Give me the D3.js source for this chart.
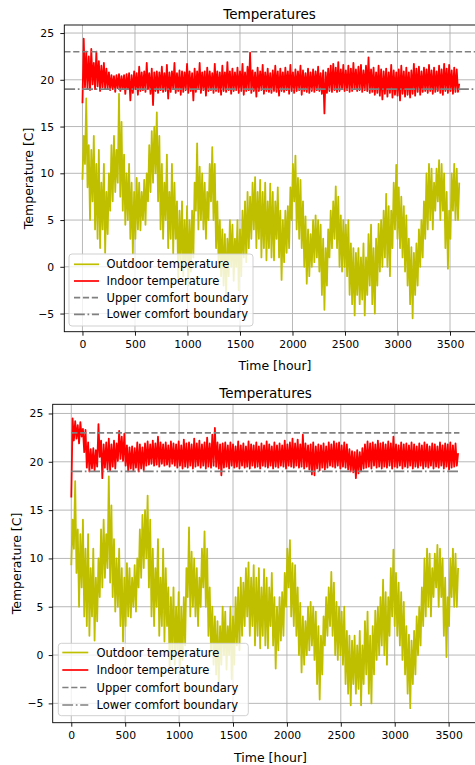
<!DOCTYPE html>
<html>
<head>
<meta charset="utf-8">
<script src="https://cdn.jsdelivr.net/npm/d3@7"></script>
<style>
  html, body { margin: 0; padding: 0; background: #fff; }
  svg { display: block; font-family: "DejaVu Sans", sans-serif; }
</style>
</head>
<body>
<svg id="chart" width="475" height="765"></svg>
<script>
// ---------------- DATA ----------------
const stepHours = 12; // sampling of the values
const xTicks = [0, 500, 1000, 1500, 2000, 2500, 3000, 3500];
const yTicks = [-5, 0, 5, 10, 15, 20, 25];
const upperComfort = 23;
const lowerComfort = 19;
const seriesNames = ["Outdoor temperature", "Indoor temperature", "Upper comfort boundary", "Lower comfort boundary"];
const chartTitle = "Temperatures";
const xLabel = "Time [hour]";
const yLabel = "Temperature [C]";

const outdoorTemp = [
9.3,14, 11,18, 8.5,13, 5,12.5, 7,14, 4,11, 3,12.5, 2,9, 4,11, 1.5,8,
3.5,10, 6,13, 7,14, 8,12.5, 9,18.5, 7.5,15.5, 6,12, 4.5,10, 5,11, 3,9,
1.4,8, 3,9.5, 4,9, 3.9,8, 5,9.3, 4.5,10, 7,13, 8,14.5, 9,15, 10,16.5,
7,14, 4,11, 3,9, 5,12, 2,8, 3,11, 1.4,9, 3,7, -1.4,6, 0.5,7,
-1,5, 0,6.5, -2,5, -0.5,6, 1,9, 6,13.2, 4,10.7, 5,10, 4,9, 3,8,
5,11, 7,12.8, 5,11, 2,7, 0.5,5, -1,4, -2,3.5, -3,3, -1,5, 0,4.5,
-1.5,3, 0,5, -2.5,4, -1,6, 1,7, 0.5,8, 2,7.5, 3,9, 4,9.6, 2,8,
3,9.3, 1,8, 2,9, 0.7,7, 2,8.9, 1,8, 0.7,7, 3,8.5, 1,6, -1.4,5,
0.5,6, 1.5,6.5, 2,8.5, 5,11, 7,11.9, 4,9.5, 3,9.3, 2,7, 0,5.4, -1.8,4,
-1,3.5, 0,5, 0.5,5.5, 1,5, -0.5,4.5, -3,3, -4.6,2, -2,4, 1,6, 2,7,
3,8.6, 2,7.5, 0,5.5, -0.5,5, 0,4.5, -1,5, -3,2.5, -4,2, -5.2,1.5, -3,2,
-4,1, -3.5,2.5, -5.2,1, -3,3.5, -2,4.5, -4,2, -5,3, -2,4.6, -0.5,5, 0,6,
1,7.8, 0,6.5, -1,6, 2,9, 4,10.9, 3,8.5, 2,7.5, 1,6.5, -0.5,5.5, -2,3,
-4,2.1, -5.5,1.5, -3,2.5, -2,4, 0,5, 1,7, 3,10, 4,11, 5,10.5, 4,9,
6,10.5, 7,11.4, 5,11, 6,10, 2,8, -0.2,6, 3,10, 6,11, 5,10.5, 5,9
];

const indoorTempTop = [
17.5,24.4,19.2,23.0,19.0,22.5,18.9,23.3,19.5,21.8,19.0,23.0,19.3,22.0,18.8,21.5,19.2,21.8,19.0,21.2,
19.1,20.8,18.9,20.5,19.0,20.4,18.7,20.5,19.1,20.6,18.8,20.4,19.0,20.5,18.5,20.6,19.0,20.7,17.8,20.5,
18.6,20.9,19.0,20.7,18.4,21.4,18.8,20.8,18.9,20.9,18.7,21.8,19.0,20.7,18.5,21.2,17.3,20.8,18.8,20.9,
18.6,20.8,18.9,21.4,18.7,20.7,18.8,21.6,18.0,20.8,18.7,20.9,19.0,21.8,18.6,20.7,18.8,21.0,18.4,20.9,
18.7,20.8,18.9,21.7,18.6,20.9,18.8,20.7,17.8,21.2,18.7,20.9,19.0,21.8,18.6,20.8,18.9,20.9,18.3,21.3,
18.8,20.9,18.9,20.7,18.6,21.7,18.8,20.9,18.7,20.8,18.4,21.5,18.8,20.8,18.7,21.9,18.9,20.9,18.5,21.2,
18.8,20.8,18.9,21.3,18.6,20.9,18.8,21.7,18.4,20.8,18.8,21.4,18.9,22.9,18.6,21.0,18.8,20.8,18.2,21.3,
18.8,20.9,18.9,21.6,18.5,20.8,18.8,21.2,18.7,20.7,18.6,21.0,18.8,21.5,18.7,20.9,18.3,21.2,18.8,20.8,
18.7,21.3,18.9,20.9,18.5,21.6,18.8,20.8,18.6,21.1,18.8,20.9,18.9,21.5,18.4,21.0,18.8,20.7,18.7,21.2,
18.6,20.8,18.8,21.1,18.7,20.9,18.9,21.4,18.8,20.7,18.5,21.0,16.4,20.8,18.6,21.2,18.8,21.5,18.7,21.7,
18.9,21.3,18.7,21.9,18.8,21.1,19.0,21.6,18.8,21.0,18.9,21.5,18.7,21.2,18.8,21.8,19.0,21.1,18.8,21.4,
18.9,21.6,18.7,21.0,18.9,21.5,18.8,22.4,18.6,21.1,18.7,21.3,18.4,20.8,18.6,21.5,18.3,21.1,17.9,20.9,
18.5,21.2,18.2,20.8,18.6,21.6,18.1,21.0,18.4,20.8,18.3,21.1,17.8,21.5,18.5,20.9,18.2,21.3,18.4,20.8,
18.1,21.0,18.5,21.7,18.3,21.2,18.7,21.4,18.4,20.9,18.7,21.3,18.8,21.1,18.6,21.6,18.8,21.0,18.5,21.3,
18.7,20.9,18.8,21.5,18.6,21.1,18.4,21.7,18.8,21.2,18.6,21.6,18.8,21.0,18.5,21.3,18.7,21.1,18.7,19.6
];

const indoorTempBottom = [
16.3,24.5,22.2,24.2,22.4,23.8,21.9,24.1,22.6,23.4,21.0,23.3,19.4,22.0,19.0,21.3,19.3,21.4,19.1,21.2,
19.5,23.9,20.5,22.2,18.3,21.8,19.4,22.0,19.2,22.4,19.1,21.8,19.5,22.2,19.3,21.9,20.1,23.2,20.3,22.6,
20.1,22.9,19.6,21.7,19.0,21.5,19.3,21.6,19.1,21.4,19.4,22.0,19.0,21.8,19.3,21.5,19.1,21.9,19.6,22.1,
19.7,21.8,19.8,22.2,19.6,21.9,19.7,22.6,19.5,22.0,19.8,21.8,19.6,22.0,19.7,21.7,19.5,22.1,19.8,21.9,
19.6,21.8,19.4,22.1,19.6,21.7,19.3,22.3,19.5,21.9,19.4,22.0,19.6,21.8,19.3,22.4,19.5,21.9,19.6,22.2,
19.4,21.8,19.6,22.0,19.3,22.5,19.5,21.9,19.4,22.8,19.6,23.5,19.5,22.0,19.3,21.8,18.6,21.9,19.4,22.0,
19.5,21.7,19.3,22.0,19.6,21.8,19.4,21.6,19.5,22.1,19.3,21.7,19.6,21.9,19.4,21.6,19.5,22.1,19.3,21.8,
19.6,21.7,19.4,22.0,19.5,21.6,19.3,21.9,19.6,21.7,19.5,22.1,19.4,21.8,19.6,21.6,19.3,22.0,19.5,21.7,
19.4,21.9,19.6,21.7,19.5,22.2,19.3,21.8,19.6,22.0,19.5,22.4,19.4,21.9,19.6,22.3,19.4,21.8,19.5,22.8,
19.3,21.9,19.5,21.7,19.2,21.8,18.7,22.0,18.6,21.6,19.3,21.8,19.1,21.7,19.4,21.9,19.2,21.6,19.4,22.0,
19.6,21.8,19.5,22.1,19.4,21.9,19.6,22.0,19.3,21.7,19.5,22.0,19.4,21.8,19.2,21.3,19.0,21.1,18.9,21.0,
18.3,21.2,18.8,21.0,19.0,21.4,19.3,21.8,19.4,22.1,19.5,21.9,19.3,22.0,19.6,21.8,19.4,22.2,19.5,21.9,
19.3,22.0,19.5,21.8,19.4,22.1,19.6,21.9,19.3,22.6,19.5,21.8,19.4,21.7,19.6,22.0,19.3,21.8,19.5,21.9,
19.4,21.7,19.6,22.0,19.3,21.8,19.5,21.6,19.4,21.9,19.6,21.7,19.3,22.0,19.5,21.8,19.4,21.6,19.6,21.9,
19.3,21.8,19.5,21.6,19.4,22.0,19.6,21.7,19.3,21.9,19.5,21.8,19.2,22.0,19.4,21.7,19.5,21.9,19.6,20.9
];

// ---------------- LAYOUT / STYLE ----------------
const colors = { outdoor: "#bfbf00", indoor: "#ff0000", comfort: "#808080", grid: "#b0b0b0" };
const panels = [
  { indoor: indoorTempTop, full: true, left: 64.3, right: 477, top: 25, bottom: 331.7,
    xDom: [-173, 3757], yDom: [-6.94, 25.86], titleY: 19, titleX: 269.5, xLabelX: 275, xLabelY: 369.5, yLabelX: 28.5,
    legend: { x: 69, y: 254, w: 184, h: 72, row0: 264.3, rowStep: 16.7, hx0: 74, hx1: 99, tx: 106.5 }, yPad: 6.2 },
  { indoor: indoorTempBottom, full: false, left: 52.7, right: 478.8, top: 404.3, bottom: 722.7,
    xDom: [-172.5, 3780], yDom: [-7.0, 25.95], titleY: 397.5, titleX: 265.5, xLabelX: 270.5, xLabelY: 761.5, yLabelX: 16,
    legend: { x: 58.3, y: 643.3, w: 190, h: 72.4, row0: 652.5, rowStep: 17.5, hx0: 62.3, hx1: 88.3, tx: 96.5 }, yPad: 5.4 }
];

const svg = d3.select("#chart");
const fmt = d => d < 0 ? "\u2212" + Math.abs(d) : String(d);

panels.forEach((p, pi) => {
  const x = d3.scaleLinear().domain(p.xDom).range([p.left, p.right]);
  const y = d3.scaleLinear().domain(p.yDom).range([p.bottom, p.top]);
  const g = svg.append("g");

  const clipId = "clip" + pi;
  svg.append("clipPath").attr("id", clipId).append("rect")
    .attr("x", p.left).attr("y", p.top).attr("width", p.right - p.left).attr("height", p.bottom - p.top);

  // grid
  const grid = g.append("g");
  xTicks.forEach(t => grid.append("line").attr("x1", x(t)).attr("x2", x(t)).attr("y1", p.top).attr("y2", p.bottom)
    .attr("stroke", colors.grid).attr("stroke-width", 0.9));
  yTicks.forEach(t => grid.append("line").attr("x1", p.left).attr("x2", p.right).attr("y1", y(t)).attr("y2", y(t))
    .attr("stroke", colors.grid).attr("stroke-width", 0.9));

  const plot = g.append("g").attr("clip-path", `url(#${clipId})`);
  const line = d3.line().x((d, i) => x(i * stepHours)).y(d => y(d));

  plot.append("path").datum(outdoorTemp).attr("d", line)
    .attr("fill", "none").attr("stroke", colors.outdoor).attr("stroke-width", 1.8).attr("stroke-linejoin", "round");
  plot.append("path").datum(p.indoor).attr("d", line)
    .attr("fill", "none").attr("stroke", colors.indoor).attr("stroke-width", 1.8).attr("stroke-linejoin", "round");

  const hx0 = p.full ? p.xDom[0] : 0;
  const hx1 = p.full ? p.xDom[1] : (outdoorTemp.length) * stepHours;
  plot.append("line").attr("x1", x(hx0)).attr("x2", x(hx1)).attr("y1", y(upperComfort)).attr("y2", y(upperComfort))
    .attr("stroke", colors.comfort).attr("stroke-width", 1.7).attr("stroke-dasharray", "6.2,2.7");
  plot.append("line").attr("x1", x(hx0)).attr("x2", x(hx1)).attr("y1", y(lowerComfort)).attr("y2", y(lowerComfort))
    .attr("stroke", colors.comfort).attr("stroke-width", 1.7).attr("stroke-dasharray", "10.8,2.7,1.7,2.7");

  // axes
  const xa = g.append("g").attr("transform", `translate(0,${p.bottom})`)
    .call(d3.axisBottom(x).tickValues(xTicks).tickFormat(fmt).tickSize(4).tickSizeOuter(0).tickPadding(4.3));
  const ya = g.append("g").attr("transform", `translate(${p.left},0)`)
    .call(d3.axisLeft(y).tickValues(yTicks).tickFormat(fmt).tickSize(4).tickSizeOuter(0).tickPadding(p.yPad));
  [xa, ya].forEach(a => {
    a.select(".domain").remove();
    a.selectAll(".tick line").attr("stroke", "#000").attr("stroke-width", 0.9);
    a.selectAll(".tick text").attr("fill", "#000").style("font-size", "10.8px").style("font-family", "DejaVu Sans");
  });

  // spines
  g.append("rect").attr("x", p.left).attr("y", p.top).attr("width", p.right - p.left).attr("height", p.bottom - p.top)
    .attr("fill", "none").attr("stroke", "#000").attr("stroke-width", 0.9);

  // texts
  g.append("text").attr("x", p.titleX).attr("y", p.titleY).attr("text-anchor", "middle")
    .style("font-size", "13.5px").text(chartTitle);
  g.append("text").attr("x", p.xLabelX).attr("y", p.xLabelY).attr("text-anchor", "middle")
    .style("font-size", "12.5px").text(xLabel);
  g.append("text").attr("transform", `translate(${p.yLabelX},${(p.top + p.bottom) / 2}) rotate(-90)`)
    .attr("text-anchor", "middle").attr("dominant-baseline", "central")
    .style("font-size", "12.5px").text(yLabel);

  // legend
  const L = p.legend;
  const lg = g.append("g");
  lg.append("rect").attr("x", L.x).attr("y", L.y).attr("width", L.w).attr("height", L.h).attr("rx", 3)
    .attr("fill", "rgba(255,255,255,0.8)").attr("stroke", "#cccccc").attr("stroke-width", 0.9);
  const styles = [
    { c: colors.outdoor, dash: null }, { c: colors.indoor, dash: null },
    { c: colors.comfort, dash: "6.2,2.7" }, { c: colors.comfort, dash: "10.8,2.7,1.7,2.7" }
  ];
  seriesNames.forEach((name, i) => {
    const ry = L.row0 + i * L.rowStep;
    const ln = lg.append("line").attr("x1", L.hx0).attr("x2", L.hx1).attr("y1", ry).attr("y2", ry)
      .attr("stroke", styles[i].c).attr("stroke-width", 1.7);
    if (styles[i].dash) ln.attr("stroke-dasharray", styles[i].dash);
    lg.append("text").attr("x", L.tx).attr("y", ry).attr("dominant-baseline", "central")
      .style("font-size", "11.5px").attr("fill", "#000").text(name);
  });
});
</script>
</body>
</html>
